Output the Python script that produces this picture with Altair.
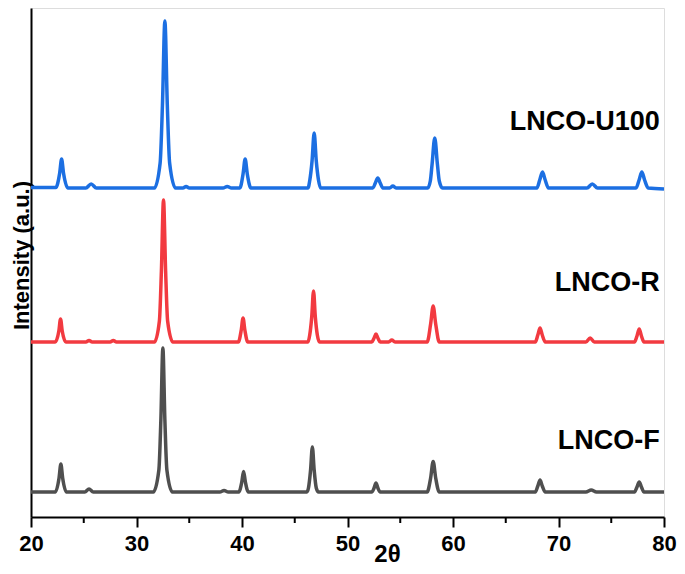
import altair as alt
import pandas as pd

# ---- data (2θ in degrees, intensity in arbitrary offset units) ----
f_x = [20, 22.3, 22.66, 22.83, 23.0, 23.35, 25.1, 25.5, 25.9,
       31.6, 32.12, 32.31, 32.5, 32.69, 32.88, 33.4, 37.9, 38.3, 38.7,
       39.7, 39.98, 40.15, 40.32, 40.6, 46.15, 46.3, 46.5, 46.67, 46.84, 47.04, 47.25,
       52.3, 52.52, 52.7, 52.88, 53.1, 57.55, 57.88, 58.12, 58.36, 58.7,
       67.8, 68.04, 68.25, 68.46, 68.75, 72.6, 73.1, 73.6, 77.2, 77.44, 77.65, 77.86, 78.1, 80]
f_y = [25, 25, 39, 53, 39, 25, 25, 28, 25,
       25, 47, 97, 169, 97, 47, 25, 25, 26.5, 25,
       25, 35, 45.5, 35, 25, 25, 29, 47, 70, 47, 29, 25,
       25, 29, 34, 29, 25, 25, 39, 55.5, 39, 25,
       25, 31, 37, 31, 25, 25, 27, 25, 25, 30, 35, 30, 25, 25]

r_x = [20, 22.3, 22.64, 22.8, 22.96, 23.3, 25.2, 25.5, 25.8, 27.5, 27.8, 28.1,
       31.7, 32.17, 32.36, 32.56, 32.76, 32.95, 33.45, 39.65, 39.93, 40.1, 40.27, 40.55,
       46.25, 46.42, 46.61, 46.78, 46.95, 47.14, 47.35, 52.3, 52.52, 52.7, 52.88, 53.1,
       53.9, 54.2, 54.5, 57.55, 57.88, 58.12, 58.36, 58.7, 67.8, 68.04, 68.25, 68.46, 68.75,
       72.6, 73.0, 73.4, 77.2, 77.44, 77.65, 77.86, 78.1, 80]
r_y = [175, 175, 186, 198, 186, 175, 175, 176.5, 175, 175, 176.5, 175,
       175, 196, 246, 317, 246, 196, 175, 175, 187, 199, 187, 175,
       175, 182, 200, 226, 200, 182, 175, 175, 179, 183, 179, 175,
       175, 177, 175, 175, 193, 211, 193, 175, 175, 182, 189, 182, 175,
       175, 179, 175, 175, 181, 188, 181, 175, 175]

u_x = [20, 22.35, 22.72, 22.9, 23.08, 23.5, 25.2, 25.7, 26.2,
       31.7, 32.24, 32.46, 32.69, 32.92, 33.14, 33.7, 34.4, 34.7, 35.0, 38.2, 38.6, 39.0,
       39.8, 40.1, 40.3, 40.5, 40.85, 46.25, 46.43, 46.64, 46.84, 47.04, 47.25, 47.45,
       52.4, 52.64, 52.87, 53.1, 53.35, 54.0, 54.3, 54.6,
       57.6, 57.85, 58.02, 58.27, 58.52, 58.7, 59.0, 67.95, 68.22, 68.48, 68.74, 69.05,
       72.7, 73.2, 73.7, 77.35, 77.64, 77.9, 78.16, 78.5, 80]
u_y = [329.5, 329.5, 344, 358, 344, 329, 329, 333, 329,
       329, 354, 412, 496, 412, 354, 329, 329, 330.5, 329, 329, 330.5, 329,
       329, 343, 358, 343, 329, 329, 337, 356, 384, 356, 337, 329,
       329, 334, 339, 334, 329, 329, 331, 329,
       329, 336, 353, 379, 353, 336, 329, 329, 337, 345, 337, 329,
       329, 333, 329, 329, 337, 345, 337, 329, 328]

series_names = ["LNCO-F", "LNCO-R", "LNCO-U100"]
series_colors = ["#4f4f4f", "#f23a40", "#1c6fe2"]

label_text = ["LNCO-U100", "LNCO-R", "LNCO-F"]
label_x = [79.6, 79.6, 79.6]
label_y = [395, 234, 76]

major_ticks = [20, 30, 40, 50, 60, 70, 80]
minor_ticks = [25, 35, 45, 55, 65, 75]

# ---- tables ----
rows = []
for name, xs, ys in [("LNCO-F", f_x, f_y), ("LNCO-R", r_x, r_y), ("LNCO-U100", u_x, u_y)]:
    for i, (a, b) in enumerate(zip(xs, ys)):
        rows.append({"series": name, "x": a, "y": b, "i": i})
df = pd.DataFrame(rows)
labels_df = pd.DataFrame({"text": label_text, "x": label_x, "y": label_y})
minor_df = pd.DataFrame({"x": minor_ticks})

W, H = 633, 509
FONT = "Liberation Sans, Arial, sans-serif"

xscale = alt.Scale(domain=[20, 80], nice=False, zero=False)
yscale = alt.Scale(domain=[0, 509], nice=False, zero=False)

lines = alt.Chart(df).mark_line(interpolate="monotone", strokeWidth=3.5, strokeJoin="round").encode(
    x=alt.X("x:Q", scale=xscale, axis=alt.Axis(
        values=major_ticks, title="2θ", format="d",
        labelFont=FONT, labelFontSize=22, labelFontWeight="bold", labelColor="black",
        labelPadding=6, tickSize=10, tickWidth=2, tickColor="black",
        domainColor="black", domainWidth=2, grid=False,
        titleFont=FONT, titleFontSize=24, titleFontWeight="bold", titleColor="black",
        titleX=356, titleY=37, titleBaseline="middle", titleAlign="center",
        labelFlush=False, labelOverlap=False)),
    y=alt.Y("y:Q", scale=yscale, axis=alt.Axis(
        title="Intensity (a.u.)", labels=False, ticks=False, grid=False,
        domainColor="black", domainWidth=2,
        titleFont=FONT, titleFontSize=22, titleFontWeight="bold", titleColor="black",
        titleAngle=-90, titleX=-10, titleY=247, titleAlign="center", titleBaseline="middle")),
    color=alt.Color("series:N", scale=alt.Scale(domain=series_names, range=series_colors), legend=None),
    detail="series:N",
    order="i:Q",
)

texts = alt.Chart(labels_df).mark_text(
    align="right", baseline="middle", font=FONT, fontSize=27, fontWeight="bold", color="black"
).encode(
    x=alt.X("x:Q", scale=xscale),
    y=alt.Y("y:Q", scale=yscale),
    text="text:N",
)

minor = alt.Chart(minor_df).mark_rule(color="black", strokeWidth=2).encode(
    x=alt.X("x:Q", scale=xscale),
    y=alt.value(H),
    y2=alt.value(H + 6),
)

chart = alt.layer(lines, texts, minor).properties(
    width=W, height=H,
    autosize=alt.AutoSizeParams(type="none"),
    padding={"left": 23, "top": 0, "right": 13, "bottom": 49},
).configure_view(stroke="black", strokeWidth=2).configure(background="white")

chart.save("out.html", embed_options={"renderer": "svg", "actions": False})
